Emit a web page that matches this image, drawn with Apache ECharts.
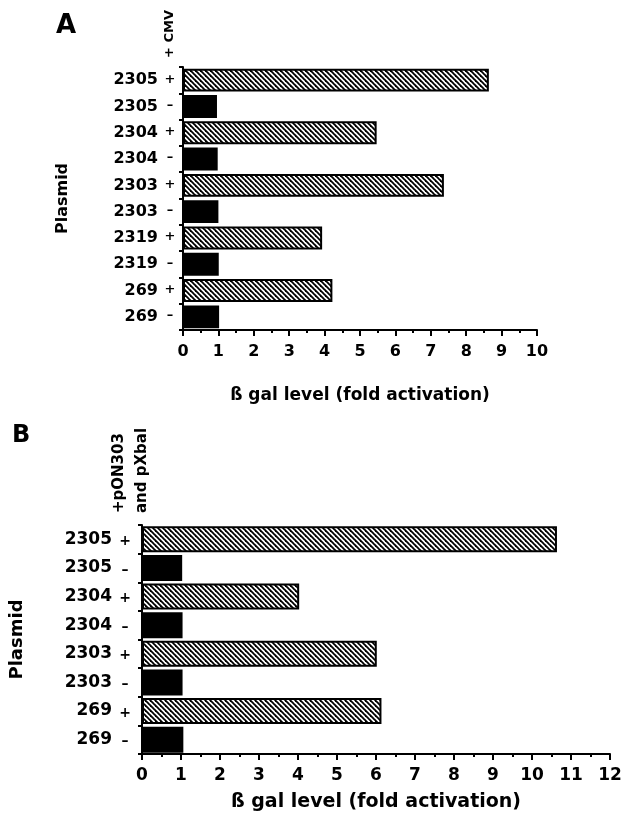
<!DOCTYPE html>
<html>
<head>
<meta charset="utf-8">
<script src="https://cdn.jsdelivr.net/npm/echarts@6/dist/echarts.min.js"></script>
<style>html,body{margin:0;padding:0;background:#fff;}#c{width:629px;height:816px;}</style>
</head>
<body>
<div id="c"></div>
<script>
// ---- data ----
const catsA = ['2305 +','2305 –','2304 +','2304 –','2303 +','2303 –','2319 +','2319 –','269 +','269 –'];
const valsA = [8.64, 0.96, 5.47, 0.98, 7.37, 1.00, 3.93, 1.01, 4.22, 1.02];
const catsB = ['2305 +','2305 –','2304 +','2304 –','2303 +','2303 –','269 +','269 –'];
const valsB = [10.64, 1.03, 4.03, 1.04, 6.02, 1.04, 6.14, 1.06];
const axisMaxA = 10;
const axisMaxB = 12;
const xTitle = 'ß gal level (fold activation)';
const yTitle = 'Plasmid';

// ---- hatch pattern ----
function makeHatch() {
  const s = 5;
  const c = document.createElement('canvas');
  c.width = s; c.height = s;
  const g = c.getContext('2d');
  g.fillStyle = '#fff'; g.fillRect(0, 0, s, s);
  g.strokeStyle = '#000'; g.lineWidth = 1.8;
  for (let k = -1; k <= 1; k++) {
    g.beginPath();
    g.moveTo(k * s - s, -s);
    g.lineTo(k * s + 2 * s, 2 * s);
    g.stroke();
  }
  return c;
}
const hatch = { image: makeHatch(), repeat: 'repeat' };

const FF = 'DejaVu Sans';
function mkData(cats, vals) {
  return vals.map((v, i) => {
    const plus = cats[i].indexOf('+') >= 0;
    return {
      value: v,
      itemStyle: plus ? { color: hatch, borderColor: '#000', borderWidth: 2 }
                      : { color: '#000', borderColor: '#000', borderWidth: 0 }
    };
  });
}
function labelFmt(v) {
  const p = v.split(' ');
  return '{n|' + p[0] + '}{s|' + p[1] + '}';
}

const chart = echarts.init(document.getElementById('c'), null, { renderer: 'canvas' });
chart.setOption({
  backgroundColor: '#fff',
  animation: false,
  grid: [
    { left: 183, top: 67, width: 354, height: 263 },
    { left: 139, top: 525, width: 471, height: 229 }
  ],
  xAxis: [
    {
      gridIndex: 0, type: 'value', min: 0, max: axisMaxA, interval: 1, position: 'bottom',
      name: xTitle, nameLocation: 'middle', nameGap: 57,
      nameTextStyle: { fontFamily: FF, fontWeight: 'bold', fontSize: 17, color: '#000' },
      axisLine: { show: true, lineStyle: { color: '#000', width: 2 } },
      axisTick: { show: true, length: 6, lineStyle: { color: '#000', width: 2 } },
      minorTick: { show: true, splitNumber: 2, length: 3, lineStyle: { color: '#000', width: 2 } },
      splitLine: { show: false },
      axisLabel: { margin: 14, fontFamily: FF, fontWeight: 'bold', fontSize: 16, color: '#000' }
    },
    {
      gridIndex: 1, type: 'value', min: 0, max: axisMaxB, interval: 1, position: 'bottom',
      name: xTitle, nameLocation: 'middle', nameGap: 39,
      nameTextStyle: { fontFamily: FF, fontWeight: 'bold', fontSize: 19, color: '#000' },
      axisLine: { show: true, lineStyle: { color: '#000', width: 2 } },
      axisTick: { show: true, length: 6, lineStyle: { color: '#000', width: 2 } },
      minorTick: { show: true, splitNumber: 2, length: 3, lineStyle: { color: '#000', width: 2 } },
      splitLine: { show: false },
      axisLabel: { margin: 13, fontFamily: FF, fontWeight: 'bold', fontSize: 17, color: '#000' }
    }
  ],
  yAxis: [
    {
      gridIndex: 0, type: 'category', data: catsA, inverse: true,
      name: yTitle, nameLocation: 'middle', nameGap: 112, nameRotate: 90,
      nameTextStyle: { fontFamily: FF, fontWeight: 'bold', fontSize: 16, color: '#000' },
      axisLine: { show: true, lineStyle: { color: '#000', width: 2 } },
      axisTick: { show: true, length: 4, lineStyle: { color: '#000', width: 2 } },
      axisLabel: {
        margin: 1, formatter: labelFmt,
        rich: {
          n: { fontFamily: FF, fontWeight: 'bold', fontSize: 16, color: '#000' },
          s: { fontFamily: FF, fontWeight: 'bold', fontSize: 13, color: '#000', width: 24, align: 'center', verticalAlign: 'middle', padding: [0, 0, 2, 0] }
        }
      }
    },
    {
      gridIndex: 1, type: 'category', data: catsB, inverse: true,
      name: yTitle, nameLocation: 'middle', nameGap: 116, nameRotate: 90,
      nameTextStyle: { fontFamily: FF, fontWeight: 'bold', fontSize: 18, color: '#000' },
      axisLine: { show: true, lineStyle: { color: '#000', width: 2 } },
      axisTick: { show: true, length: 4, lineStyle: { color: '#000', width: 2 } },
      axisLabel: {
        margin: 4, formatter: labelFmt,
        rich: {
          n: { fontFamily: FF, fontWeight: 'bold', fontSize: 17, color: '#000' },
          s: { fontFamily: FF, fontWeight: 'bold', fontSize: 14, color: '#000', width: 26, align: 'center', padding: [4, 0, 0, 0] }
        }
      }
    }
  ],
  series: [
    { type: 'bar', xAxisIndex: 0, yAxisIndex: 0, data: mkData(catsA, valsA), barCategoryGap: '13%' },
    { type: 'bar', xAxisIndex: 1, yAxisIndex: 1, data: mkData(catsB, valsB), barCategoryGap: '9%' }
  ],
  graphic: [
    { type: 'text', left: 56, top: 13, style: { text: 'A', fontFamily: FF, fontWeight: 'bold', fontSize: 26, fill: '#000' } },
    { type: 'text', left: 12, top: 424, style: { text: 'B', fontFamily: FF, fontWeight: 'bold', fontSize: 24, fill: '#000' } },
    { type: 'text', x: 170, y: 58, rotation: Math.PI / 2,
      style: { text: '+ CMV', fontFamily: FF, fontWeight: 'bold', fontSize: 13, fill: '#000', align: 'left', verticalAlign: 'middle' } },
    { type: 'text', x: 131, y: 513, rotation: Math.PI / 2,
      style: { text: '+pON303\nand pXbal', fontFamily: FF, fontWeight: 'bold', fontSize: 15, lineHeight: 23, fill: '#000', align: 'left', verticalAlign: 'middle' } }
  ]
});
</script>
</body>
</html>
